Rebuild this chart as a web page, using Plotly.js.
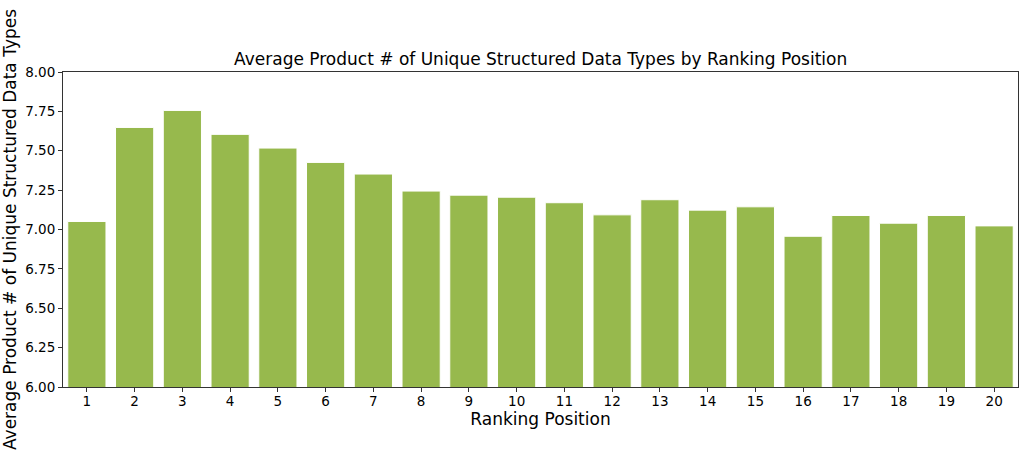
<!DOCTYPE html>
<html>
<head>
<meta charset="utf-8">
<script src="https://cdn.plot.ly/plotly-3.0.1.min.js"></script>
<style>html,body{margin:0;padding:0;background:#fff;}#chart{width:1024px;height:458px;}</style>
</head>
<body>
<div id="chart"></div>
<script>
const positions = ["1","2","3","4","5","6","7","8","9","10","11","12","13","14","15","16","17","18","19","20"];
const avgTypes = [7.051,7.648,7.756,7.604,7.517,7.426,7.352,7.244,7.218,7.205,7.170,7.093,7.189,7.123,7.144,6.957,7.089,7.040,7.089,7.023];
const yTicks = [6.00,6.25,6.50,6.75,7.00,7.25,7.50,7.75,8.00];

const font = "DejaVu Sans, sans-serif";
Plotly.newPlot("chart", [{
  type: "bar",
  x: positions,
  y: avgTypes,
  marker: {color: "#97b94d", line: {color: "#ffffff", width: 1}},
  hoverinfo: "x+y"
}], {
  width: 1024, height: 458,
  margin: {l: 63, r: 6, t: 72, b: 71},
  paper_bgcolor: "#fff", plot_bgcolor: "#fff",
  bargap: 0.2,
  font: {family: font, size: 13, color: "#000"},
  title: {text: "Average Product # of Unique Structured Data Types by Ranking Position", font: {family: font, size: 17, color: "#000"}, x: 0.528, xanchor: "center", y: 0.87, yanchor: "middle"},
  xaxis: {
    type: "category",
    title: {text: "Ranking Position", font: {family: font, size: 17}, standoff: 0},
    showline: true, linecolor: "#333", linewidth: 1, mirror: true,
    ticks: "outside", ticklen: 4, tickcolor: "#333",
    ticklabelstandoff: -2,
    showgrid: false, zeroline: false,
    tickfont: {size: 13.5}
  },
  yaxis: {
    range: [6, 8],
    tickvals: yTicks,
    ticktext: yTicks.map(v => v.toFixed(2)),
    title: {text: "Average Product # of Unique Structured Data Types", font: {family: font, size: 17}, standoff: 10},
    showline: true, linecolor: "#333", linewidth: 1, mirror: true,
    ticks: "outside", ticklen: 4, tickcolor: "#333",
    showgrid: false, zeroline: false,
    tickfont: {size: 13.5}
  },
  showlegend: false
}, {displayModeBar: false, responsive: false});
</script>
</body>
</html>
